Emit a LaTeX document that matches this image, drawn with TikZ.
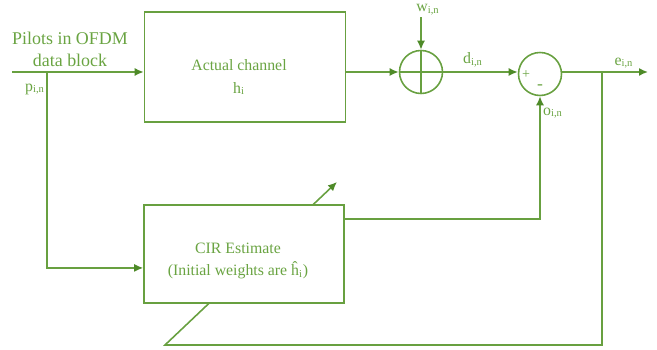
\documentclass[tikz,border=0pt]{standalone}
\usepackage{fontspec}
\setmainfont{Liberation Serif}
\usetikzlibrary{arrows.meta,positioning,calc}
\definecolor{LineGreen}{RGB}{104,160,64}
\definecolor{TipGreen}{RGB}{78,138,40}
\definecolor{TextGreen}{RGB}{106,164,66}
\tikzset{
  block/.style={draw=LineGreen,fill=white,line width=0.9pt,minimum width=4cm,
    minimum height=2cm},
  junction/.style={draw=LineGreen,circle,line width=0.9pt,minimum size=0.86cm,
    inner sep=0pt},
  lbl/.style={text=TextGreen,font=\fontsize{9}{11}\selectfont,inner sep=1pt,
    align=center},
  wire/.style={draw=LineGreen,line width=0.9pt},
  arrow/.style={wire,-{Latex[length=1.8mm,width=1.6mm,color=TipGreen]}}
}

\begin{document}
\begin{tikzpicture}[
  x=0.02cm,
  y=-0.02cm
]
\useasboundingbox (0,0) rectangle (657,350);

% blocks
\node[block,minimum width=4.02cm,minimum height=2.2cm] (channel) at (245,67) {};
\node[lbl,font=\fontsize{9}{13}\selectfont] (channeltext) at (239,77)
  {Actual channel\\h\textsubscript{i}};
\node[junction] (sum) at (421,72) {};
\node[junction] (diff) at (540,74) {};

% points on the wires
\coordinate (in) at (12,72);
\coordinate (pb) at (47,72);
\coordinate (br) at (602,72);
\coordinate (out) at (648,72);
\coordinate (fb) at (165,345);
\coordinate (tip) at (337,182);

% feedback, runs through the estimator
\draw[arrow] (br) |- (fb) -- (tip);

\node[block,minimum width=4cm,minimum height=1.96cm] (cir) at (244,254) {};
\node[lbl,font=\fontsize{9}{13}\selectfont] (cirtext) at (238,261)
  {CIR Estimate\\(Initial weights are \^{h}\textsubscript{i})};

% labels
\node[lbl,font=\fontsize{10.2}{12.5}\selectfont] (pilots) at (70,49)
  {Pilots in OFDM\\data block};
\node[lbl] (p) at (35,89) {p\textsubscript{i,n}};
\node[lbl] (w) at (428,10) {w\textsubscript{i,n}};
\node[lbl] (d) at (473,60) {d\textsubscript{i,n}};
\node[lbl] (e) at (624,63) {e\textsubscript{i,n}};
\node[lbl] (o) at (553,113) {o\textsubscript{i,n}};
\node[lbl,font=\fontsize{8}{9}\selectfont] (plus) at (526,75) {+};
\node[lbl,font=\fontsize{10}{10}\selectfont] (minus) at (540,87) {-};

% cross in the adder
\draw[wire] (sum.north) -- (sum.south);
\draw[wire] (sum.west) -- (sum.east);

% connectors
\draw[arrow] (in) -- (channel.west |- in);
\draw[arrow] (channel.east |- sum) -- (sum.west);
\draw[arrow] (sum.north |- w.south) -- (sum.north);
\draw[arrow] (sum.east) -- (diff.west |- sum);
\draw[arrow] (diff.east |- out) -- (out);
\draw[arrow] (pb) |- ($(cir.south west)!0.36!(cir.north west)$);
\draw[arrow] ($(cir.north east)!0.15!(cir.south east)$) -| (diff.south);

\end{tikzpicture}
\end{document}
